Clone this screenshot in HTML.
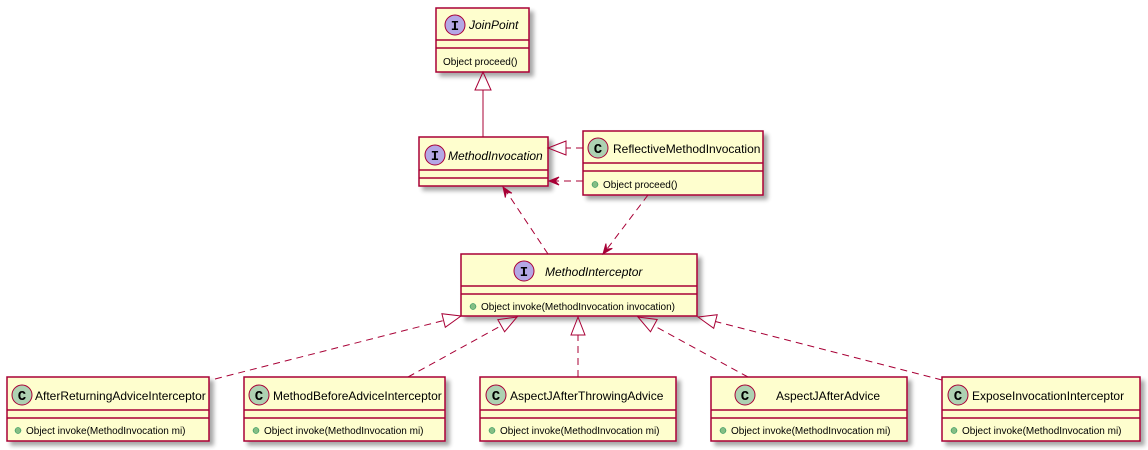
<!DOCTYPE html>
<html><head><meta charset="utf-8"><style>
html,body{margin:0;padding:0;background:#fff;}
svg{display:block;font-family:"Liberation Sans",sans-serif;}
</style></head><body>
<svg width="1148" height="450" viewBox="0 0 1148 450" xmlns="http://www.w3.org/2000/svg">
<defs><filter id="sh" x="-10%" y="-10%" width="130%" height="140%"><feGaussianBlur in="SourceAlpha" stdDeviation="2"/><feOffset dx="4" dy="4"/><feComponentTransfer><feFuncA type="linear" slope="0.35"/></feComponentTransfer><feMerge><feMergeNode/><feMergeNode in="SourceGraphic"/></feMerge></filter></defs>
<g stroke="#A80036" stroke-width="1.5" fill="#FEFECE">
<!-- JoinPoint -->
<rect x="436" y="8" width="93" height="64" filter="url(#sh)"/>
<line x1="436" y1="40" x2="529" y2="40"/><line x1="436" y1="48" x2="529" y2="48"/>
<!-- MethodInvocation -->
<rect x="419" y="137" width="129" height="49" filter="url(#sh)"/>
<line x1="419" y1="170" x2="548" y2="170"/><line x1="419" y1="178" x2="548" y2="178"/>
<!-- Reflective -->
<rect x="583" y="131" width="180" height="64" filter="url(#sh)"/>
<line x1="583" y1="163" x2="763" y2="163"/><line x1="583" y1="171" x2="763" y2="171"/>
<!-- MethodInterceptor -->
<rect x="461" y="254" width="236" height="62" filter="url(#sh)"/>
<line x1="461" y1="286" x2="697" y2="286"/><line x1="461" y1="294" x2="697" y2="294"/>
<!-- bottom -->
<rect x="7" y="377" width="202" height="64" filter="url(#sh)"/>
<line x1="7" y1="410" x2="209" y2="410"/><line x1="7" y1="418" x2="209" y2="418"/>
<rect x="244" y="377" width="201" height="64" filter="url(#sh)"/>
<line x1="244" y1="410" x2="445" y2="410"/><line x1="244" y1="418" x2="445" y2="418"/>
<rect x="480" y="377" width="196" height="64" filter="url(#sh)"/>
<line x1="480" y1="410" x2="676" y2="410"/><line x1="480" y1="418" x2="676" y2="418"/>
<rect x="711" y="377" width="196" height="64" filter="url(#sh)"/>
<line x1="711" y1="410" x2="907" y2="410"/><line x1="711" y1="418" x2="907" y2="418"/>
<rect x="942" y="377" width="198" height="64" filter="url(#sh)"/>
<line x1="942" y1="410" x2="1140" y2="410"/><line x1="942" y1="418" x2="1140" y2="418"/>
</g>
<!-- circles -->
<g stroke="#A80036" stroke-width="1">
<circle cx="455" cy="25" r="10" fill="#B4A7E5"/>
<circle cx="435" cy="155" r="10" fill="#B4A7E5"/>
<circle cx="524" cy="271" r="10" fill="#B4A7E5"/>
<circle cx="598" cy="148" r="10" fill="#ADD1B2"/>
<circle cx="22" cy="395" r="10" fill="#ADD1B2"/>
<circle cx="259" cy="395" r="10" fill="#ADD1B2"/>
<circle cx="496" cy="395" r="10" fill="#ADD1B2"/>
<circle cx="745" cy="395" r="10" fill="#ADD1B2"/>
<circle cx="958" cy="395" r="10" fill="#ADD1B2"/>
</g>
<g font-family="'Liberation Mono',monospace" font-weight="bold" font-size="14" text-anchor="middle" fill="#000">
<text x="455" y="30">I</text><text x="435" y="160">I</text><text x="524" y="276">I</text>
<text x="598" y="153">C</text><text x="22" y="400">C</text><text x="259" y="400">C</text><text x="496" y="400">C</text><text x="745" y="400">C</text><text x="958" y="400">C</text>
</g>
<g font-size="12" fill="#000">
<text x="469" y="29" font-style="italic">JoinPoint</text>
<text x="448" y="160" font-style="italic">MethodInvocation</text>
<text x="545" y="276" font-style="italic">MethodInterceptor</text>
<text x="613" y="153">ReflectiveMethodInvocation</text>
<text x="35" y="400">AfterReturningAdviceInterceptor</text>
<text x="273" y="400">MethodBeforeAdviceInterceptor</text>
<text x="510" y="400">AspectJAfterThrowingAdvice</text>
<text x="776" y="400">AspectJAfterAdvice</text>
<text x="972" y="400">ExposeInvocationInterceptor</text>
</g>
<g font-size="10" fill="#000">
<text x="443" y="65">Object proceed()</text>
<text x="603" y="188">Object proceed()</text>
<text x="481" y="310">Object invoke(MethodInvocation invocation)</text>
<text x="26" y="434">Object invoke(MethodInvocation mi)</text>
<text x="264" y="434">Object invoke(MethodInvocation mi)</text>
<text x="500" y="434">Object invoke(MethodInvocation mi)</text>
<text x="731" y="434">Object invoke(MethodInvocation mi)</text>
<text x="962" y="434">Object invoke(MethodInvocation mi)</text>
</g>
<g fill="#84BE84" stroke="#038048" stroke-width="0.5">
<circle cx="595" cy="184.5" r="3"/><circle cx="473" cy="306.5" r="3"/>
<circle cx="18" cy="430.5" r="3"/><circle cx="256" cy="430.5" r="3"/><circle cx="492" cy="430.5" r="3"/><circle cx="723" cy="430.5" r="3"/><circle cx="954" cy="430.5" r="3"/>
</g>
<!-- connectors -->
<g stroke="#A80036" stroke-width="1" fill="none">
<line x1="483" y1="137" x2="483" y2="90"/>
<polygon points="483,72 475,90 491,90"/>
<g stroke-dasharray="7,5">
<line x1="583" y1="148" x2="566" y2="148"/>
<line x1="583" y1="181" x2="555" y2="181"/>
<line x1="548" y1="254" x2="506" y2="191"/>
<line x1="648" y1="195" x2="607" y2="249"/>
<line x1="215" y1="379" x2="443.6" y2="320.5"/>
<line x1="408" y1="377" x2="501.2" y2="325.7"/>
<line x1="578" y1="377" x2="578" y2="335"/>
<line x1="748" y1="377" x2="653.8" y2="325.6"/>
<line x1="942" y1="380" x2="715.4" y2="321.5"/>
</g>
<polygon points="548,148 566,141 566,155"/>
<polygon points="461,316 445.3,327.3 441.9,313.7"/>
<polygon points="517,317 504.6,331.8 497.8,319.6"/>
<polygon points="578,317 571,335 585,335"/>
<polygon points="638,317 657.2,319.5 650.5,331.8"/>
<polygon points="698,317 717.2,314.7 713.7,328.3"/>
</g>
<g fill="#A80036" stroke="#A80036" stroke-width="1">
<polygon points="549,181 559,177 555,181 559,185"/>
<polygon points="503,187 511.9,193.1 506.3,192 505.3,197.5"/>
<polygon points="603,254 612.3,248.4 606.6,249.2 605.9,243.6"/>
</g>
</svg>
</body></html>
